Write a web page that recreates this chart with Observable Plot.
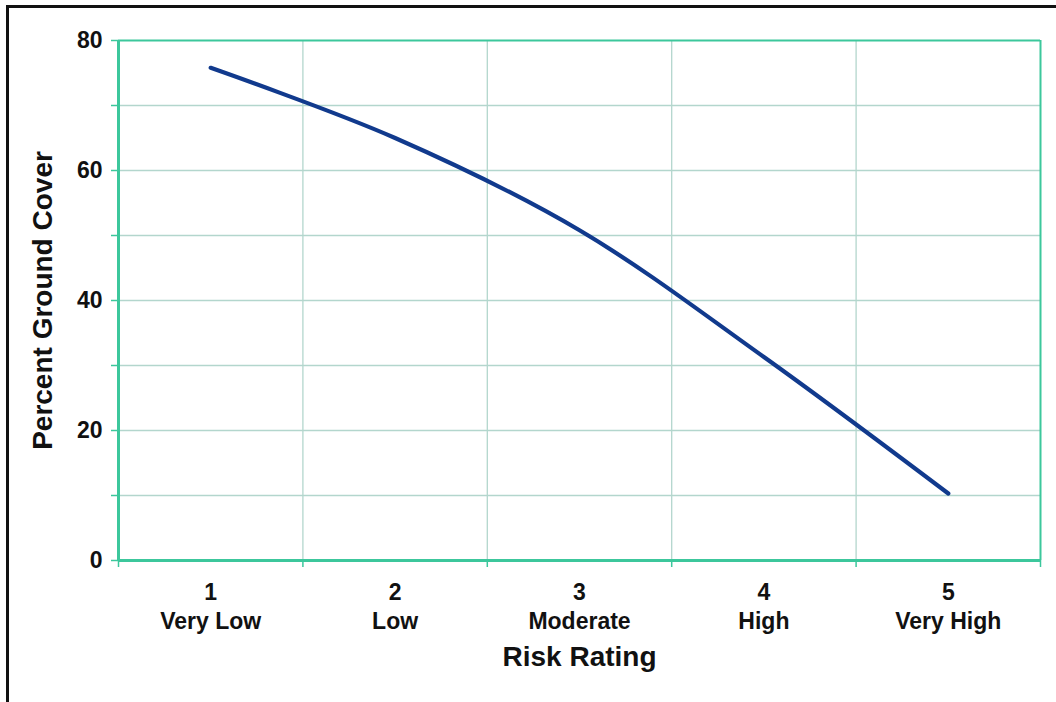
<!DOCTYPE html>
<html>
<head>
<meta charset="utf-8">
<script src="https://cdn.jsdelivr.net/npm/d3@7"></script>
<script src="https://cdn.jsdelivr.net/npm/@observablehq/plot@0.6"></script>
<style>
  html, body { margin: 0; padding: 0; background: #fff; overflow: hidden; }
  #wrap { position: relative; width: 1056px; height: 702px; overflow: hidden; }
  #frame { position: absolute; left: 6px; top: 5px; width: 1200px; height: 900px; border: 3px solid #111; pointer-events: none; }
  #chart { position: absolute; left: 0; top: 0; }
</style>
</head>
<body>
<div id="wrap"><div id="chart"></div><div id="frame"></div></div>
<script>
const ratings = [1, 2, 3, 4, 5];
const ratingNames = ["Very Low", "Low", "Moderate", "High", "Very High"];
const groundCover = [75.8, 65.0, 50.8, 31.3, 10.3];
const yTickLabels = [0, 20, 40, 60, 80];
const yMinorTicks = [0, 10, 20, 30, 40, 50, 60, 70, 80];
const xBoundaries = [0.5, 1.5, 2.5, 3.5, 4.5, 5.5];

const data = ratings.map((r, i) => ({rating: r, name: ratingNames[i], cover: groundCover[i]}));

const axisColor = "#3cc79c";
const gridColor = "#b3d6cd";
const font = "'Liberation Sans', Arial, Helvetica, sans-serif";

const chart = Plot.plot({
  width: 1056,
  height: 702,
  marginLeft: 118,
  marginRight: 16,
  marginTop: 40,
  marginBottom: 142,
  style: {fontFamily: font, background: "transparent", overflow: "visible"},
  x: {domain: [0.5, 5.5]},
  y: {domain: [0, 80]},
  marks: [
    Plot.gridX([1.5, 2.5, 3.5, 4.5], {stroke: gridColor, strokeOpacity: 1, strokeWidth: 1.3}),
    Plot.gridY([10, 20, 30, 40, 50, 60, 70], {stroke: gridColor, strokeOpacity: 1, strokeWidth: 1.3}),
    Plot.ruleY([80], {stroke: axisColor, strokeWidth: 2}),
    Plot.ruleX([5.5], {stroke: axisColor, strokeWidth: 2}),
    // tick marks
    Plot.axisX(xBoundaries, {ticks: xBoundaries, tickSize: 7, tickFormat: () => "", stroke: axisColor, strokeWidth: 1.5, label: null}),
    Plot.axisY(yMinorTicks, {ticks: yMinorTicks, tickSize: 7, tickFormat: () => "", stroke: axisColor, strokeWidth: 1.5, label: null}),
    // tick labels
    Plot.axisX(ratings, {
      ticks: ratings, tickSize: 0, tickPadding: 19,
      tickFormat: (d) => d + "\n" + ratingNames[d - 1],
      fontSize: 23, fontWeight: "bold", fill: "#111", lineHeight: 1.25, label: null
    }),
    Plot.axisY(yTickLabels, {
      ticks: yTickLabels, tickSize: 0, tickPadding: 16,
      fontSize: 23, fontWeight: "bold", fill: "#111", label: null
    }),
    // axis lines
    Plot.ruleY([0], {stroke: axisColor, strokeWidth: 3}),
    Plot.ruleX([0.5], {stroke: axisColor, strokeWidth: 3}),
    // data
    Plot.line(data, {x: "rating", y: "cover", curve: "catmull-rom", stroke: "#113a8d", strokeWidth: 4.2, strokeLinecap: "round"}),
    // titles
    Plot.text(["Risk Rating"], {frameAnchor: "bottom", dy: 97, text: d => d, fontSize: 28, fontWeight: "bold", fill: "#111", lineAnchor: "middle", textAnchor: "middle"}),
    Plot.text(["Percent Ground Cover"], {frameAnchor: "left", dx: -75, rotate: -90, text: d => d, fontSize: 28, fontWeight: "bold", fill: "#111", lineAnchor: "middle", textAnchor: "middle"})
  ]
});
document.getElementById("chart").appendChild(chart);
</script>
</body>
</html>
